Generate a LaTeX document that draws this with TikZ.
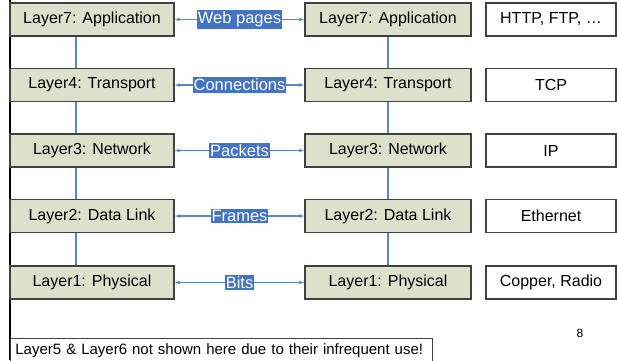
\documentclass[tikz,border=0pt]{standalone}
\usepackage{fontspec}
\setmainfont{Liberation Sans}
\usetikzlibrary{arrows.meta}
\definecolor{boxfill}{HTML}{DDE0CB}
\definecolor{boxline}{HTML}{404040}
\definecolor{linkblue}{HTML}{5B86C8}
\definecolor{labelblue}{HTML}{4472C4}
\begin{document}
\begin{tikzpicture}[x=1pt,y=-1pt,
  layer/.style={draw=boxline,line width=1.3pt,fill=boxfill,minimum height=33pt,inner sep=0pt,font=\fontsize{16}{18}\selectfont},
  leftlayer/.style={layer,minimum width=164pt},
  rightlayer/.style={layer,minimum width=166pt},
  proto/.style={draw=boxline,line width=1.1pt,fill=white,minimum width=130pt,minimum height=33pt,inner sep=0pt,font=\fontsize{16}{18}\selectfont},
  peer/.style={linkblue,line width=1.2pt,{Latex[length=5pt,width=4pt]}-{Latex[length=5pt,width=4pt]}},
  vlink/.style={linkblue,line width=1.2pt},
  lab/.style={fill=labelblue,text=white,inner xsep=1pt,inner ysep=1.5pt,font=\fontsize{16.5}{18}\selectfont}]
\useasboundingbox (0,0) rectangle (617,360);
\fill[white] (0,0) rectangle (617,360);
\draw[line width=2pt,black] (9.5,0) -- (9.5,360);
\node[leftlayer] (L7) at (92,19.5) {Layer7: Application};
\node[leftlayer] (L4) at (92,85) {Layer4: Transport};
\node[leftlayer] (L3) at (92,150.5) {Layer3: Network};
\node[leftlayer] (L2) at (92,216) {Layer2: Data Link};
\node[leftlayer] (L1) at (92,282.5) {Layer1: Physical};
\node[rightlayer] (R7) at (388,19.5) {Layer7: Application};
\node[rightlayer] (R4) at (388,85) {Layer4: Transport};
\node[rightlayer] (R3) at (388,150.5) {Layer3: Network};
\node[rightlayer] (R2) at (388,216) {Layer2: Data Link};
\node[rightlayer] (R1) at (388,282.5) {Layer1: Physical};
\draw[vlink] ([xshift=-16pt]L7.south) -- ([xshift=-16pt]L4.north)
             ([xshift=-16pt]L4.south) -- ([xshift=-16pt]L3.north)
             ([xshift=-16pt]L3.south) -- ([xshift=-16pt]L2.north)
             ([xshift=-16pt]L2.south) -- ([xshift=-16pt]L1.north);
\draw[vlink] (R7.south) -- (R4.north) (R4.south) -- (R3.north) (R3.south) -- (R2.north) (R2.south) -- (R1.north);
\node[proto] (P7) at (551,19.5) {HTTP, FTP, \dots};
\node[proto] (P4) at (551,85) {TCP};
\node[proto] (P3) at (551,150.5) {IP};
\node[proto] (P2) at (551,216) {Ethernet};
\node[proto] (P1) at (551,282.5) {Copper, Radio};
\draw[peer] (L7) -- node[lab] (w7) {Web pages} (R7);
\draw[peer] (L4) -- node[lab] (w4) {Connections} (R4);
\draw[peer] (L3) -- node[lab] (w3) {Packets} (R3);
\draw[peer] (L2) -- node[lab] (w2) {Frames} (R2);
\draw[peer] (L1) -- node[lab] (w1) {Bits} (R1);
\node[font=\fontsize{12}{14}\selectfont] (pg) at (580,333) {8};
\node[draw=boxline,line width=0.8pt,fill=white,anchor=north west,text width=412pt,minimum height=24pt,inner xsep=5pt,inner ysep=3pt,align=left,font=\fontsize{15}{17}\selectfont] (note) at (10,338) {Layer5 \& Layer6 not shown here due to their infrequent use!};
\end{tikzpicture}
\end{document}
